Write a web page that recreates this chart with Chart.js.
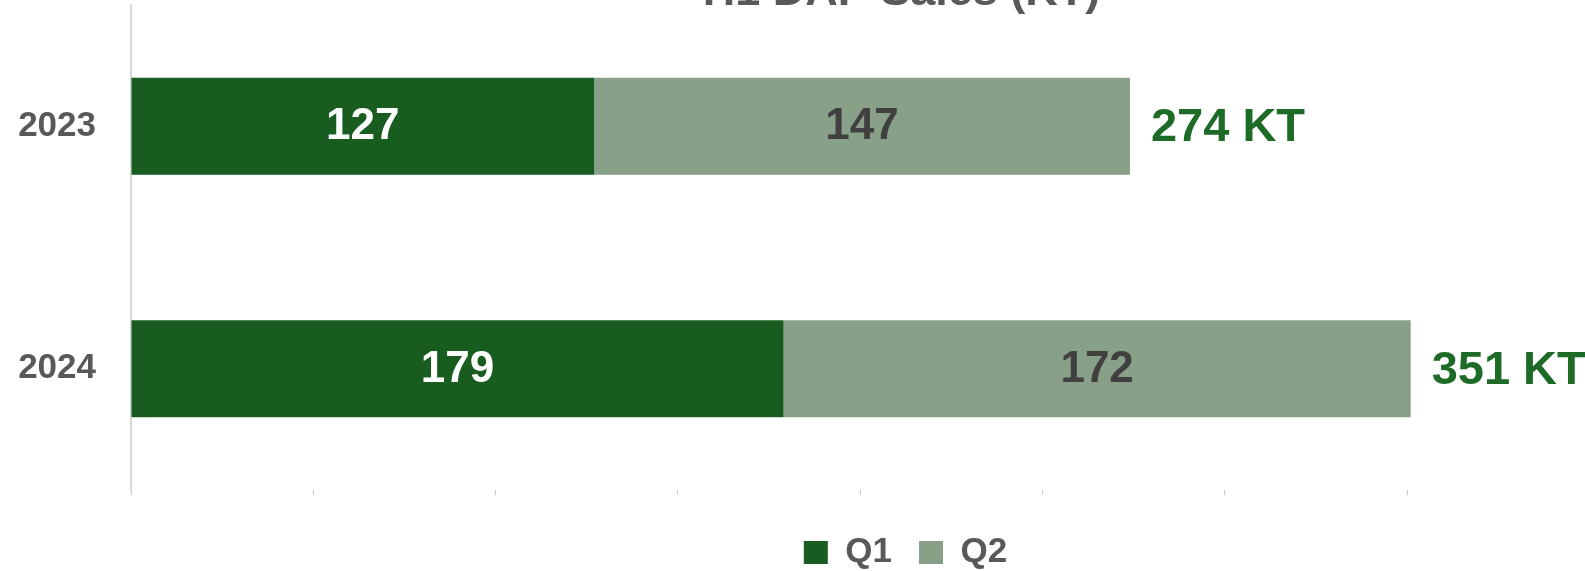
<!DOCTYPE html>
<html>
<head>
<meta charset="utf-8">
<script src="https://cdn.jsdelivr.net/npm/chart.js@4/dist/chart.umd.min.js"></script>
<style>
  html, body { margin: 0; padding: 0; background: #ffffff; overflow: hidden; }
  #wrap { width: 1811px; height: 581px; }
</style>
</head>
<body>
<div id="wrap"><canvas id="c" width="1811" height="581"></canvas></div>
<script>
const titleText = 'H1 DAP Sales (KT)';
const categories = ['2023', '2024'];
const q1Values = [127, 179];
const q2Values = [147, 172];
const seriesNames = ['Q1', 'Q2'];
const totalSuffix = ' KT';
const xMax = 350;
const xStep = 50;

const CANVAS_W = 1811;
const PLOT_RIGHT = 1407;
const FONT = '"Liberation Sans", Arial, Helvetica, sans-serif';
const GRAY = '#595959';
const Q1_COLOR = '#185c20';
const Q2_COLOR = '#889f88';
const TOTAL_COLOR = '#1d6b27';

const totals = categories.map((_, i) => q1Values[i] + q2Values[i]);

const labelsPlugin = {
  id: 'barLabels',
  afterDatasetsDraw(chart) {
    const ctx = chart.ctx;
    ctx.save();
    ctx.textBaseline = 'middle';
    const valueColors = ['#ffffff', '#404040'];
    chart.data.datasets.forEach((ds, di) => {
      const meta = chart.getDatasetMeta(di);
      meta.data.forEach((el, i) => {
        ctx.font = 'bold 44px ' + FONT;
        ctx.fillStyle = valueColors[di];
        ctx.textAlign = 'center';
        ctx.fillText(String(ds.data[i]), (el.x + el.base) / 2, el.y + 1);
      });
    });
    const last = chart.getDatasetMeta(chart.data.datasets.length - 1);
    last.data.forEach((el, i) => {
      ctx.font = 'bold 47px ' + FONT;
      ctx.fillStyle = TOTAL_COLOR;
      ctx.textAlign = 'left';
      ctx.fillText(totals[i] + totalSuffix, el.x + 21, el.y + 2);
    });
    ctx.restore();
  }
};

const titlePlugin = {
  id: 'cutTitle',
  afterDraw(chart) {
    const ctx = chart.ctx;
    ctx.save();
    ctx.font = 'bold 45px ' + FONT;
    ctx.fillStyle = GRAY;
    ctx.textAlign = 'center';
    ctx.textBaseline = 'alphabetic';
    ctx.fillText(titleText, chart.width / 2 - 4, 5);
    ctx.restore();
  }
};

new Chart(document.getElementById('c'), {
  type: 'bar',
  data: {
    labels: categories,
    datasets: [
      { label: seriesNames[0], data: q1Values, backgroundColor: Q1_COLOR, borderWidth: 0, clip: false },
      { label: seriesNames[1], data: q2Values, backgroundColor: Q2_COLOR, borderWidth: 0, clip: false }
    ]
  },
  options: {
    indexAxis: 'y',
    responsive: false,
    animation: false,
    devicePixelRatio: 1,
    barPercentage: 0.5,
    categoryPercentage: 0.8,
    layout: { padding: { top: 5, left: 0, right: 0, bottom: 1 } },
    scales: {
      x: {
        stacked: true,
        min: 0,
        max: xMax,
        ticks: { display: false, stepSize: xStep },
        grid: { drawOnChartArea: false, drawTicks: true, tickLength: 5, color: '#c8c8c8', lineWidth: 1 },
        border: { display: false },
        afterFit(s) { s.height = 18; s.paddingLeft = 0; s.paddingRight = 0; }
      },
      y: {
        stacked: true,
        ticks: { color: GRAY, font: { family: FONT, size: 35, weight: 'bold' }, padding: 35 },
        grid: { display: false, drawTicks: false },
        border: { display: true, color: '#d9d9d9', width: 2 },
        afterFit(s) { s.width = 131; s.paddingTop = 0; s.paddingBottom = 0; }
      },
      yRight: {
        type: 'linear',
        position: 'right',
        display: true,
        ticks: { display: false },
        grid: { display: false, drawTicks: false },
        border: { display: false },
        afterFit(s) { s.width = CANVAS_W - PLOT_RIGHT; s.paddingTop = 0; s.paddingBottom = 0; }
      }
    },
    plugins: {
      legend: {
        position: 'bottom',
        labels: {
          color: GRAY,
          font: { family: FONT, size: 35, weight: 'bold' },
          boxWidth: 24,
          boxHeight: 23,
          padding: 27
        }
      },
      title: { display: false },
      tooltip: { enabled: false }
    }
  },
  plugins: [labelsPlugin, titlePlugin]
});
</script>
</body>
</html>
